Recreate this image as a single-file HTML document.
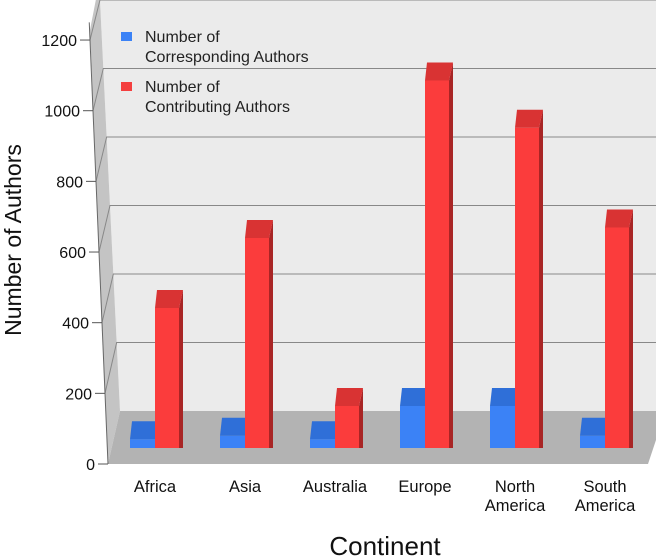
<!DOCTYPE html>
<html><head><meta charset="utf-8"><style>
body{margin:0;background:#fff}
svg{display:block;font-family:"Liberation Sans",Arial,sans-serif}
</style></head><body>
<svg id="chart" width="656" height="558" viewBox="0 0 656 558">
<g id="walls"></g><g id="bars"></g><g id="axis"></g>
<g>
<rect x="121" y="32" width="11" height="9" fill="#3b82f6"/>
<text x="145" y="42" font-size="16" fill="#222"><tspan x="145">Number of</tspan><tspan x="145" dy="20">Corresponding Authors</tspan></text>
<rect x="121" y="82" width="11" height="9" fill="#f43f3f"/>
<text x="145" y="92" font-size="16" fill="#222"><tspan x="145">Number of</tspan><tspan x="145" dy="20">Contributing Authors</tspan></text>
</g>
<text x="0" y="0" transform="translate(21,240) rotate(-90)" text-anchor="middle" font-size="23" fill="#111">Number of Authors</text>
<text x="385" y="555" text-anchor="middle" font-size="26" fill="#111">Continent</text>
</svg>
<script>
const categories=["Africa","Asia","Australia","Europe","North America","South America"];
const corresponding=[25,35,25,120,120,35];
const contributing=[400,600,120,1050,915,630];
const yTicks=[0,200,400,600,800,1000,1200];
const NS="http://www.w3.org/2000/svg";
function el(p,t,a){const e=document.createElementNS(NS,t);for(const k in a)e.setAttribute(k,a[k]);p.appendChild(e);return e;}
function yFront(v){return 464-v*0.3533;}
function xFront(v){return 108-v*0.015;}
function yBack(v){return 411-v*0.3425;}
function xBack(v){return 120-v*0.0167;}
function yBar(v){return 448-v*0.35;}
function xGroup(i){return 130+i*90;}
const walls=document.getElementById('walls'),bars=document.getElementById('bars'),axis=document.getElementById('axis');
const w1=el(walls,'polygon',{points:`${xBack(1250)},${yBack(1250)} 656,${yBack(1250)} 656,411 ${xBack(0)},411`,fill:'#ebebeb'});

const w2=el(walls,'polygon',{points:`${xFront(1200)},${yFront(1200)-10} ${xBack(1250)},${yBack(1250)} ${xBack(0)},411 ${xFront(0)},464`,fill:'#c4c4c4'});

const fl=el(walls,'polygon',{points:`${xBack(0)},411 656,411 656,440 648,464 ${xFront(0)},464`,fill:'#b3b3b3'});

el(axis,'line',{x1:xFront(1250),y1:yFront(1250),x2:xFront(0),y2:464,stroke:'#666','stroke-width':1});
yTicks.forEach(v=>{
  if(v>0){const g=el(walls,'polyline',{points:`${xFront(v)},${yFront(v)} ${xBack(v)},${yBack(v)} 656,${yBack(v)}`,fill:'none',stroke:'#888','stroke-width':1});
  }
  el(axis,'line',{x1:xFront(v)-10,y1:yFront(v),x2:xFront(v),y2:yFront(v),stroke:'#555'});
  const t=el(axis,'text',{x:xFront(v)-13,y:yFront(v)+6,'text-anchor':'end','font-size':16,fill:'#111'});
  t.textContent=v;
  
});
el(walls,'line',{x1:xBack(1250),y1:yBack(1250),x2:656,y2:yBack(1250),stroke:'#888'});
function bar(x,w,v,front,top,side,name){
  const g=el(bars,'g',{});
  
  const yt=yBar(v),d=18,dx=2;
  el(g,'polygon',{points:`${x+w},${yt} ${x+w+dx+2},${yt-d} ${x+w+dx+2},448 ${x+w},448`,fill:side});
  el(g,'rect',{x:x,y:yt,width:w,height:448-yt,fill:front});
  el(g,'polygon',{points:`${x},${yt} ${x+dx},${yt-d} ${x+w+dx+2},${yt-d} ${x+w},${yt}`,fill:top});
}
categories.forEach((c,i)=>{
  const x=xGroup(i);
  bar(x,25,corresponding[i],'#3b82f6','#2f6fd8','#2458b0','bar-corresponding-'+i);
  bar(x+25,24,contributing[i],'#fb3c3c','#d93333','#a82525','bar-contributing-'+i);
  const t=el(axis,'text',{x:x+25,y:492,'text-anchor':'middle','font-size':16.5,fill:'#111'});
  
  const parts=c.split(' ');
  parts.forEach((p,j)=>{const s=el(t,'tspan',{x:x+25,dy:j?19:0});s.textContent=p;});
});
</script>
</body></html>
